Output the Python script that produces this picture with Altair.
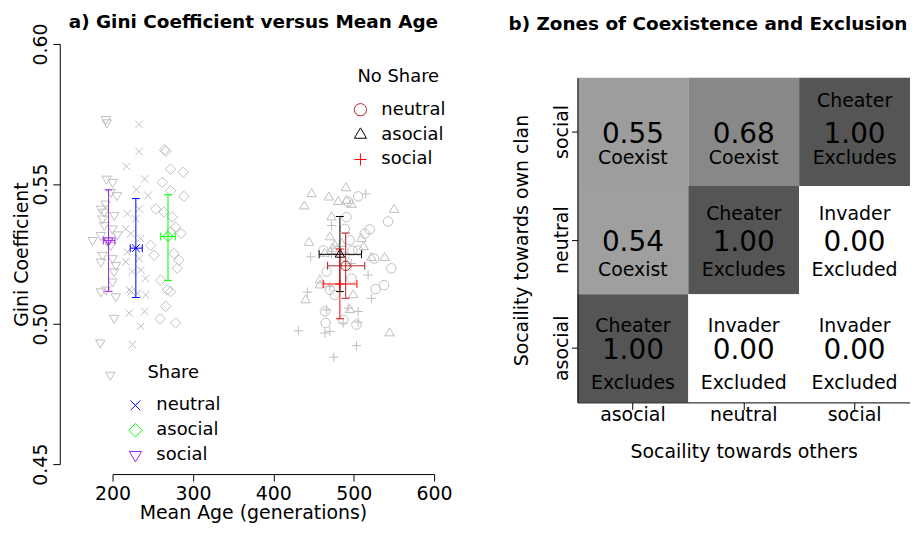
import altair as alt
import pandas as pd

FONT = "DejaVu Sans"
GREY = "#bebebe"

# ---------------- panel a data ----------------
share_social_age = [191.7, 192.9, 192.6, 200.0, 205.3, 197.9, 185.5, 189.7, 202.1, 187.6, 189.7, 200.0, 175.2, 185.5, 197.9,
                    187.6, 200.0, 204.1, 185.5, 202.1, 200.0, 185.5, 204.1, 191.7, 202.1, 184.8, 197.2, 193.8, 206.2, 191.3]
share_social_gini = [0.5731, 0.5719, 0.5518, 0.5506, 0.5459, 0.5471, 0.5411, 0.5400, 0.5388, 0.5376, 0.5352, 0.5340, 0.5299,
                     0.5317, 0.5281, 0.5246, 0.5234, 0.5210, 0.5222, 0.5187, 0.5151, 0.5116, 0.5098, 0.5122, 0.5021, 0.4933,
                     0.4818, 0.5294, 0.5319, 0.5429]

share_neutral_age = [233.1, 233.1, 217.3, 240.0, 229.7, 244.2, 233.1, 218.6, 228.9, 216.5, 222.7, 235.0, 218.6, 233.1, 216.5,
                     235.0, 224.8, 241.2, 220.7, 241.2, 220.7, 240.0, 235.0, 224.8, 231.0, 223.5]
share_neutral_gini = [0.5713, 0.5616, 0.5563, 0.5518, 0.5480, 0.5459, 0.5411, 0.5394, 0.5376, 0.5340, 0.5323, 0.5305, 0.5258,
                      0.5234, 0.5222, 0.5193, 0.5187, 0.5163, 0.5122, 0.5104, 0.5039, 0.5045, 0.4992, 0.4927, 0.5110, 0.5116]

share_asocial_age = [264.8, 266.3, 272.2, 287.9, 261.9, 272.2, 288.8, 253.6, 264.0, 274.3, 278.4, 285.4, 272.2, 247.4, 251.6,
                     276.4, 282.6, 280.5, 259.8, 268.1, 272.2, 266.0, 259.1, 278.4]
share_asocial_gini = [0.5622, 0.5617, 0.5553, 0.5542, 0.5506, 0.5476, 0.5456, 0.5411, 0.5400, 0.5382, 0.5346, 0.5323, 0.5329,
                      0.5281, 0.5246, 0.5252, 0.5228, 0.5199, 0.5157, 0.5122, 0.5116, 0.5063, 0.5019, 0.5004]

noshare_asocial_age = [490.2, 447.7, 469.1, 480.7, 491.0, 497.2, 438.6, 550.1, 472.4, 470.3, 444.3, 509.6, 512.4, 476.5, 538.4,
                       522.0, 458.0, 458.0, 499.3, 440.2, 495.1, 544.6, 473.7, 484.9, 463.8]
noshare_asocial_gini = [0.5486, 0.5465, 0.5453, 0.5437, 0.5441, 0.5427, 0.5421, 0.5409, 0.5382, 0.5311, 0.5291, 0.5305, 0.5276,
                        0.5281, 0.5237, 0.5237, 0.5157, 0.5139, 0.5104, 0.5086, 0.5051, 0.4968, 0.5270, 0.5287, 0.5252]

noshare_neutral_age = [505.5, 493.1, 491.0, 542.7, 488.9, 519.9, 513.7, 495.1, 462.2, 505.5, 525.3, 546.8, 466.3, 497.2, 527.3,
                       537.7, 470.3, 476.5, 464.1, 486.9, 465.0, 503.4, 478.6, 488.5, 498.5]
noshare_neutral_gini = [0.5456, 0.5437, 0.5382, 0.5366, 0.5340, 0.5338, 0.5323, 0.5299, 0.5263, 0.5263, 0.5234, 0.5199, 0.5187,
                        0.5163, 0.5125, 0.5139, 0.5122, 0.5104, 0.5045, 0.5015, 0.5004, 0.4998, 0.5262, 0.5241, 0.5262]

noshare_social_age = [514.9, 472.4, 446.4, 472.4, 497.2, 517.9, 470.3, 442.4, 522.0, 466.3, 505.5, 493.1, 431.2, 470.3, 505.5,
                      503.4, 475.3, 464.1, 486.9]
noshare_social_gini = [0.5465, 0.5352, 0.5240, 0.5252, 0.5216, 0.5175, 0.5134, 0.5114, 0.5092, 0.5051, 0.5045, 0.5057, 0.4976,
                       0.4974, 0.5007, 0.4923, 0.4882, 0.4968, 0.5004]

strategies = ["neutral", "asocial", "social"]

share_mean_age = [229.0, 269.0, 195.0]
share_mean_gini = [0.5271, 0.5313, 0.5298]
share_age_lo = [222.0, 260.0, 188.5]
share_age_hi = [237.0, 278.0, 203.0]
share_gini_lo = [0.5095, 0.5156, 0.5117]
share_gini_hi = [0.5448, 0.5462, 0.5479]

noshare_mean_age = [490.0, 482.8, 482.8]
noshare_mean_gini = [0.5208, 0.5249, 0.5143]
noshare_age_lo = [467.5, 457.0, 462.0]
noshare_age_hi = [513.7, 509.6, 504.0]
noshare_gini_lo = [0.5092, 0.5116, 0.5019]
noshare_gini_hi = [0.5325, 0.5384, 0.5268]

x_ticks = [200, 300, 400, 500, 600]
y_ticks = [0.45, 0.50, 0.55, 0.60]

# ---------------- panel b data ----------------
others_cats = ["asocial", "neutral", "social"]
own_cats = ["social", "neutral", "asocial"]
cell_others = ["asocial", "neutral", "social", "asocial", "neutral", "social", "asocial", "neutral", "social"]
cell_own = ["social", "social", "social", "neutral", "neutral", "neutral", "asocial", "asocial", "asocial"]
cell_value = [0.55, 0.68, 1.00, 0.54, 1.00, 0.00, 1.00, 0.00, 0.00]
cell_top = ["", "", "Cheater", "", "Cheater", "Invader", "Cheater", "Invader", "Invader"]
cell_bottom = ["Coexist", "Coexist", "Excludes", "Coexist", "Excludes", "Excluded", "Excludes", "Excluded", "Excluded"]

# per-row text offsets (pixels) for the upper / lower captions
row_top_dy = {"social": -31, "neutral": -26, "asocial": -22}
row_bottom_dy = {"social": 26, "neutral": 30.5, "asocial": 35}

# ---------------- symbols ----------------
PLUS = "M-1,0L1,0M0,-1L0,1"
XSYM = "M-0.8,-0.8L0.8,0.8M-0.8,0.8L0.8,-0.8"
DIAMOND = "M0,-1.1L1.1,0L0,1.1L-1.1,0Z"
TRI_UP = "M0,-1.1L1,0.6L-1,0.6Z"
TRI_DOWN = "M0,1.1L1,-0.6L-1,-0.6Z"

series_names = ["Share neutral", "Share asocial", "Share social",
                "No Share neutral", "No Share asocial", "No Share social"]
series_shapes = [XSYM, DIAMOND, TRI_DOWN, "circle", TRI_UP, PLUS]

rows = []
for name, ages, ginis in [
    ("Share neutral", share_neutral_age, share_neutral_gini),
    ("Share asocial", share_asocial_age, share_asocial_gini),
    ("Share social", share_social_age, share_social_gini),
    ("No Share neutral", noshare_neutral_age, noshare_neutral_gini),
    ("No Share asocial", noshare_asocial_age, noshare_asocial_gini),
    ("No Share social", noshare_social_age, noshare_social_gini),
]:
    for a, g in zip(ages, ginis):
        rows.append({"age": a, "gini": g, "series": name})
scatter_df = pd.DataFrame(rows)

share_df = pd.DataFrame({"strategy": strategies, "age": share_mean_age, "gini": share_mean_gini,
                         "age_lo": share_age_lo, "age_hi": share_age_hi,
                         "gini_lo": share_gini_lo, "gini_hi": share_gini_hi})
noshare_df = pd.DataFrame({"strategy": strategies, "age": noshare_mean_age, "gini": noshare_mean_gini,
                           "age_lo": noshare_age_lo, "age_hi": noshare_age_hi,
                           "gini_lo": noshare_gini_lo, "gini_hi": noshare_gini_hi})

x_scale = alt.Scale(domain=[200, 600], nice=False, zero=False)
y_scale = alt.Scale(domain=[0.45, 0.60], nice=False, zero=False)
x_axis = alt.Axis(values=x_ticks, offset=10, tickSize=7, labelPadding=4, title="Mean Age (generations)",
                  titlePadding=0, titleX=141, grid=False, labelFlush=False, domainColor="black", tickColor="black",
                  labelFont=FONT, labelFontSize=19, titleFont=FONT, titleFontSize=19, titleFontWeight="normal",
                  labelColor="black", titleColor="black")
y_axis = alt.Axis(values=y_ticks, format=".2f", offset=53, tickSize=7, labelPadding=2, labelAngle=270,
                  title="Gini Coefficient", titlePadding=0, grid=False, labelFlush=False, domainColor="black",
                  tickColor="black", labelFont=FONT, labelFontSize=19, titleFont=FONT, titleFontSize=19,
                  titleFontWeight="normal", labelColor="black", titleColor="black")


def X(field):
    return alt.X(field, type="quantitative", scale=x_scale, axis=x_axis)


def Y(field):
    return alt.Y(field, type="quantitative", scale=y_scale, axis=y_axis)


scatter = alt.Chart(scatter_df).mark_point(filled=False, size=90, strokeWidth=1, opacity=1).encode(
    x=X("age"), y=Y("gini"),
    color=alt.value(GREY),
    shape=alt.Shape("series:N", scale=alt.Scale(domain=series_names, range=series_shapes), legend=None),
)


def group_layers(df, title, colors, shapes, lx, ly):
    cscale = alt.Scale(domain=strategies, range=colors)
    col = alt.Color("strategy:N", scale=cscale, legend=None)
    base = alt.Chart(df)
    vr = base.mark_rule(strokeWidth=1).encode(x=X("age"), y=Y("gini_lo"), y2="gini_hi", color=col)
    hr = base.mark_rule(strokeWidth=1).encode(y=Y("gini"), x=X("age_lo"), x2="age_hi", color=col)
    c1 = base.mark_tick(orient="horizontal", size=8, thickness=1, opacity=1).encode(x=X("age"), y=Y("gini_lo"), color=col)
    c2 = base.mark_tick(orient="horizontal", size=8, thickness=1, opacity=1).encode(x=X("age"), y=Y("gini_hi"), color=col)
    c3 = base.mark_tick(orient="vertical", size=8, thickness=1, opacity=1).encode(x=X("age_lo"), y=Y("gini"), color=col)
    c4 = base.mark_tick(orient="vertical", size=8, thickness=1, opacity=1).encode(x=X("age_hi"), y=Y("gini"), color=col)
    leg = alt.Legend(title=title, orient="none", legendX=lx, legendY=ly, symbolSize=150, symbolStrokeWidth=1,
                     labelFont=FONT, labelFontSize=18, titleFont=FONT, titleFontSize=18, titleFontWeight="normal",
                     titleAnchor="middle", titlePadding=15, labelOffset=12, rowPadding=7, padding=0,
                     labelColor="black", titleColor="black")
    pts = base.mark_point(filled=False, size=90, strokeWidth=1, opacity=1).encode(
        x=X("age"), y=Y("gini"),
        color=alt.Color("strategy:N", scale=cscale, legend=leg),
        shape=alt.Shape("strategy:N", scale=alt.Scale(domain=strategies, range=shapes), legend=leg),
    )
    return [vr, hr, c1, c2, c3, c4, pts]


layers_a = [scatter]
layers_a += group_layers(noshare_df, "No Share", ["#b22222", "#000000", "#ff0000"], ["circle", TRI_UP, PLUS], 240, 24)
layers_a += group_layers(share_df, "Share", ["#0000ff", "#00ff00", "#a020f0"], [XSYM, DIAMOND, TRI_DOWN], 14, 321)

panel_a = alt.layer(*layers_a).resolve_scale(color="independent", shape="independent").resolve_legend(
    color="independent", shape="independent"
).properties(
    width=323, height=422,
    title=alt.TitleParams("a) Gini Coefficient versus Mean Age", font=FONT, fontSize=18.5, fontWeight="bold",
                          anchor="middle", frame="group", offset=-24, baseline="alphabetic", dx=-20, color="black"),
)

# ---------------- panel b ----------------
heat_df = pd.DataFrame({"others": cell_others, "own": cell_own, "value": cell_value,
                        "top": cell_top, "bottom": cell_bottom})

xh_axis = alt.Axis(title="Socaility towards others", labelAngle=0, tickSize=7, labelPadding=-4, titlePadding=18,
                   domainColor="black", tickColor="black", labelFont=FONT, labelFontSize=19, titleFont=FONT,
                   titleFontSize=19, titleFontWeight="normal", labelColor="black", titleColor="black", grid=False)
yh_axis = alt.Axis(title="Socaility towards own clan", labelAngle=270, tickSize=6, labelPadding=0, titlePadding=21,
                   domainColor="black", tickColor="black", labelFont=FONT, labelFontSize=19, titleFont=FONT,
                   titleFontSize=19, titleFontWeight="normal", labelColor="black", titleColor="black", grid=False)
xh = alt.X("others:N", scale=alt.Scale(domain=others_cats, paddingInner=0, paddingOuter=0), axis=xh_axis)
yh = alt.Y("own:N", scale=alt.Scale(domain=own_cats, range=[34, 360], paddingInner=0, paddingOuter=0), axis=yh_axis)

hbase = alt.Chart(heat_df)
rect = hbase.mark_rect(strokeWidth=0).encode(
    x=xh, y=yh,
    color=alt.Color("value:Q", scale=alt.Scale(domain=[0, 1], range=["#ffffff", "#555555"]), legend=None),
)
num = hbase.mark_text(font=FONT, fontSize=28, baseline="middle", dy=3, color="black").encode(
    x=xh, y=yh, text=alt.Text("value:Q", format=".2f"))

layers_b = [rect, num]
for r in own_cats:
    layers_b.append(hbase.transform_filter(alt.datum.own == r).mark_text(
        font=FONT, fontSize=19, baseline="middle", dy=row_top_dy[r], color="black").encode(x=xh, y=yh, text="top:N"))
    layers_b.append(hbase.transform_filter(alt.datum.own == r).mark_text(
        font=FONT, fontSize=19, baseline="middle", dy=row_bottom_dy[r], color="black").encode(x=xh, y=yh, text="bottom:N"))

panel_b = alt.layer(*layers_b).properties(
    width=334, height=360,
    title=alt.TitleParams("b) Zones of Coexistence and Exclusion", font=FONT, fontSize=18.5, fontWeight="bold",
                          anchor="middle", frame="group", offset=-4, baseline="alphabetic", dx=-36, color="black"),
)

chart = alt.hconcat(panel_a, panel_b, spacing=55).properties(
    padding={"left": 5, "top": 4, "right": 0, "bottom": 0},
    background="white",
).configure_view(stroke=None)

chart.save("out.html", embed_options={"renderer": "svg", "actions": False})
